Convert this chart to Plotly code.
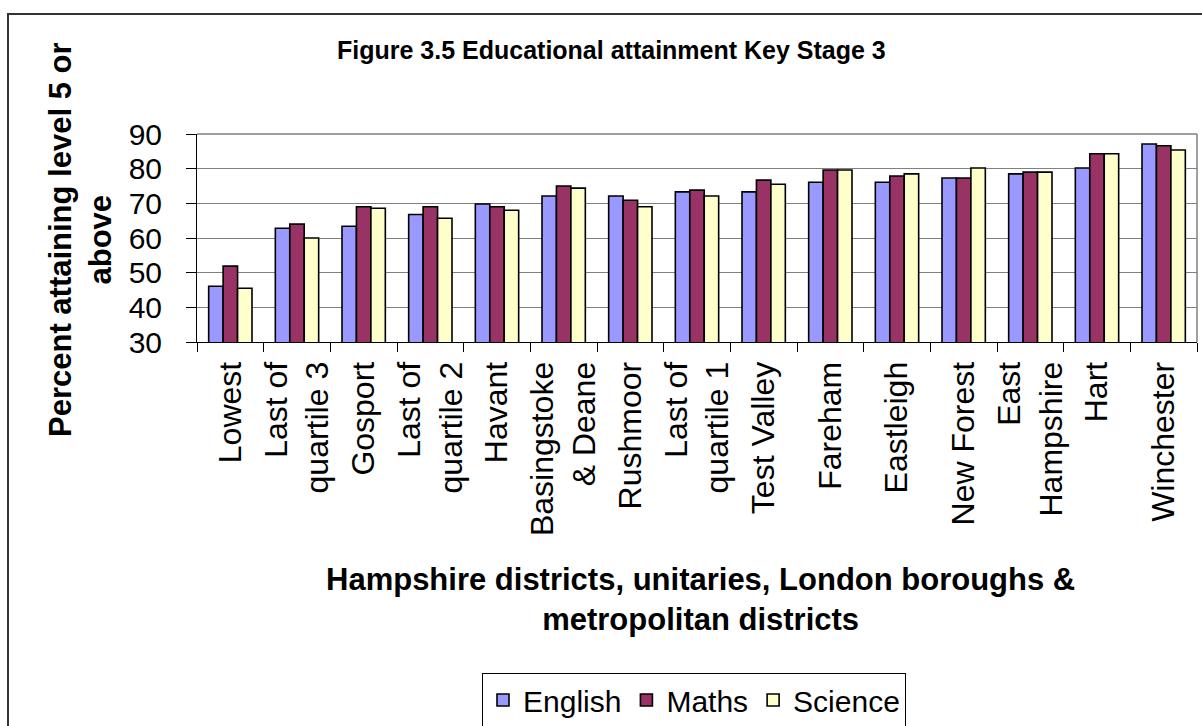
import plotly.graph_objects as go

categories = ["Lowest", "Last of<br>quartile 3", "Gosport", "Last of<br>quartile 2", "Havant",
              "Basingstoke<br>& Deane", "Rushmoor", "Last of<br>quartile 1", "Test Valley",
              "Fareham", "Eastleigh", "New Forest", "East<br>Hampshire", "Hart", "Winchester"]
english = [46.1, 62.8, 63.4, 66.8, 69.8, 72.1, 72.1, 73.3, 73.3, 76.1, 76.1, 77.3, 78.5, 80.2, 87.1]
maths   = [51.9, 64.0, 69.0, 69.0, 69.0, 75.0, 70.9, 73.8, 76.7, 79.6, 77.9, 77.3, 79.0, 84.3, 86.6]
science = [45.5, 60.0, 68.6, 65.7, 68.0, 74.4, 69.0, 72.1, 75.5, 79.6, 78.5, 80.2, 79.0, 84.3, 85.4]
y_ticks = [30, 40, 50, 60, 70, 80, 90]

FONT = "Liberation Sans, Arial, sans-serif"
W, H = 1202, 726
L, R, T, B = 197, 1197, 134, 342

def px_x(p):
    return (p - L) / (R - L)

def px_y(p):
    return (B - p) / (B - T)

fig = go.Figure()
for name, vals, col in [("English", english, "#9999FF"),
                        ("Maths", maths, "#993366"),
                        ("Science", science, "#FFFFCC")]:
    fig.add_trace(go.Bar(x=categories, y=vals, name=name,
                         marker=dict(color=col, line=dict(color="black", width=1.6))))

fig.update_layout(
    width=W, height=H,
    margin=dict(l=L, r=W - R, t=T, b=H - B, autoexpand=False),
    paper_bgcolor="white", plot_bgcolor="white",
    barmode="group", bargap=0.35, bargroupgap=0,
    font=dict(family=FONT, color="black"),
    showlegend=True,
    legend=dict(orientation="h", x=px_x(694), y=px_y(673), xanchor="center", yanchor="top",
                bordercolor="black", borderwidth=1, font=dict(size=30, family=FONT),
                itemwidth=30, traceorder="normal"),
)
fig.update_xaxes(
    type="category", tickangle=-90, tickfont=dict(size=32, family=FONT),
    ticks="outside", tickson="boundaries", ticklen=9, tickcolor="black",
    ticklabelstandoff=6,
    showline=True, linecolor="black", linewidth=1, showgrid=False,
)
fig.update_yaxes(
    range=[30, 90], tickvals=y_ticks, tickfont=dict(size=30, family=FONT),
    ticks="outside", ticklen=10, tickcolor="black", ticklabelstandoff=18,
    showline=True, linecolor="black", linewidth=1,
    showgrid=True, gridcolor="#808080", gridwidth=1, zeroline=False,
)

# plot-area border (gray) top and right
fig.add_shape(type="line", xref="paper", yref="paper", x0=0, x1=1, y0=1, y1=1,
              line=dict(color="#808080", width=1.5))
fig.add_shape(type="line", xref="paper", yref="paper", x0=1, x1=1, y0=0, y1=1,
              line=dict(color="#808080", width=1.5))
# outer figure frame
fig.add_shape(type="rect", xref="paper", yref="paper",
              x0=px_x(8), x1=px_x(1260), y0=px_y(800), y1=px_y(14),
              line=dict(color="#333333", width=2))

fig.add_annotation(text="<b>Figure 3.5 Educational attainment Key Stage 3</b>",
                   xref="paper", yref="paper", x=px_x(611), y=px_y(50),
                   xanchor="center", yanchor="middle", showarrow=False,
                   font=dict(size=25, family=FONT))
fig.add_annotation(text="<b>Percent attaining level 5 or<br>above</b>",
                   xref="paper", yref="paper", x=px_x(80), y=px_y(240),
                   xanchor="center", yanchor="middle", showarrow=False, textangle=-90,
                   font=dict(size=31, family=FONT))
fig.add_annotation(text="<b>Hampshire districts, unitaries, London boroughs &<br>metropolitan districts</b>",
                   xref="paper", yref="paper", x=px_x(700), y=px_y(599),
                   xanchor="center", yanchor="middle", showarrow=False,
                   font=dict(size=31, family=FONT))

fig.write_html("out.html", config={"displayModeBar": False},
               post_script="document.body.style.margin='0';document.body.style.overflow='hidden';")
